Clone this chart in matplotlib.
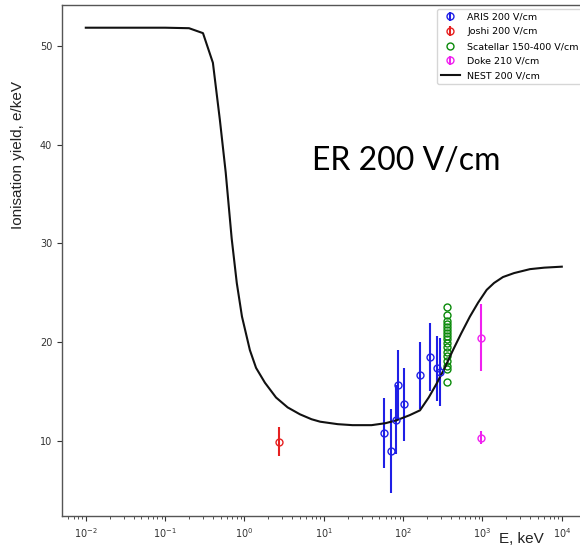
import matplotlib
matplotlib.use("Agg")
import matplotlib.pyplot as plt

# ---- data -------------------------------------------------------------
# NEST prediction, ionisation yield for electron recoils at 200 V/cm
nest_E = [0.01, 0.1, 0.2, 0.3, 0.4, 0.49, 0.58, 0.69, 0.8, 0.93, 1.17, 1.4,
          1.81, 2.5, 3.5, 5.0, 7.0, 9.0, 15, 23, 40, 60, 83, 120, 163, 210,
          264, 330, 425, 540, 695, 880, 1130, 1400, 1813, 2500, 3970, 6000,
          10000]
nest_Y = [51.85, 51.85, 51.8, 51.3, 48.3, 42.5, 37.2, 30.5, 26.0, 22.6, 19.2,
          17.4, 15.9, 14.4, 13.4, 12.7, 12.2, 11.95, 11.7, 11.6, 11.6, 11.8,
          12.1, 12.6, 13.1, 14.4, 15.8, 17.3, 19.2, 20.9, 22.6, 24.0, 25.3,
          26.0, 26.6, 27.0, 27.4, 27.55, 27.65]

# ARIS 200 V/cm
aris_E = [57.8, 70.2, 80.3, 86.7, 102, 163, 220, 270, 292]
aris_Y = [10.84, 8.96, 12.13, 15.67, 13.72, 16.65, 18.48, 17.36, 16.96]
aris_err = [3.54, 4.24, 3.5, 3.55, 3.68, 3.42, 3.46, 3.3, 3.46]

# Joshi 200 V/cm
joshi_E = [2.73]
joshi_Y = [9.93]
joshi_err = [1.44]

# Scatellar 150-400 V/cm
scat_E = [360] * 17
scat_Y = [23.54, 22.76, 22.15, 21.81, 21.51, 21.24, 20.97, 20.66, 20.33,
          19.95, 19.48, 19.04, 18.6, 18.13, 17.6, 17.29, 16.0]

# Doke 210 V/cm
doke_E = [960, 960]
doke_Y = [20.46, 10.33]
doke_err = [3.4, 0.67]

# ---- figure -----------------------------------------------------------
fig = plt.figure(figsize=(5.8, 5.47), dpi=100)
ax = fig.add_axes([62 / 580, 31 / 547, 523.6 / 580, 511 / 547])

ms = 5
mkw = dict(fmt="o", mfc="none", ms=ms, elinewidth=1.5, mew=1.0)
h_aris = ax.errorbar(aris_E, aris_Y, yerr=aris_err, color="#1f1fe6",
                     label="ARIS 200 V/cm", **mkw)
h_joshi = ax.errorbar(joshi_E, joshi_Y, yerr=joshi_err, color="#e62020",
                      label="Joshi 200 V/cm", **mkw)
h_scat, = ax.plot(scat_E, scat_Y, "o", mfc="none", ms=ms, mew=1.0,
                  color="#0a8a0a", label="Scatellar 150-400 V/cm")
h_doke = ax.errorbar(doke_E, doke_Y, yerr=doke_err, color="#f020f0",
                     label="Doke 210 V/cm", **mkw)
h_nest, = ax.plot(nest_E, nest_Y, "-", color="#111111", lw=1.5,
                  label="NEST 200 V/cm")

ax.set_xscale("log")
ax.set_xlim(10 ** -2.3, 10 ** 4.3)
ax.set_ylim(2.4, 54.15)
ax.set_yticks([10, 20, 30, 40, 50])
ax.tick_params(labelsize=7, colors="#333333", length=3.5, width=0.8)
ax.tick_params(which="minor", length=2, width=0.6, colors="#333333")
for s in ax.spines.values():
    s.set_color("#555555")
    s.set_linewidth(1.0)
ax.spines["right"].set_visible(False)

ax.legend(handles=[h_aris, h_joshi, h_scat, h_doke, h_nest],
          loc="upper left", bbox_to_anchor=(437 / 580, 1 - 9 / 547),
          bbox_transform=fig.transFigure, borderaxespad=0,
          fontsize=6.8, labelspacing=0.6, frameon=True)

fig.text(18 / 580, 1 - 155 / 547, "Ionisation yield, e/keV", rotation=90,
         ha="center", va="center", fontsize=11, family="Liberation Sans",
         color="#222222")
fig.text(521 / 580, 1 - 539 / 547, "E, keV", ha="center", va="center",
         fontsize=11, family="Liberation Sans", color="#222222")
fig.text(406 / 580, 1 - 170 / 547, "ER 200 V/cm", ha="center",
         va="baseline", fontsize=23, family="Lato", color="black")

fig.savefig("out.png", dpi=100)
